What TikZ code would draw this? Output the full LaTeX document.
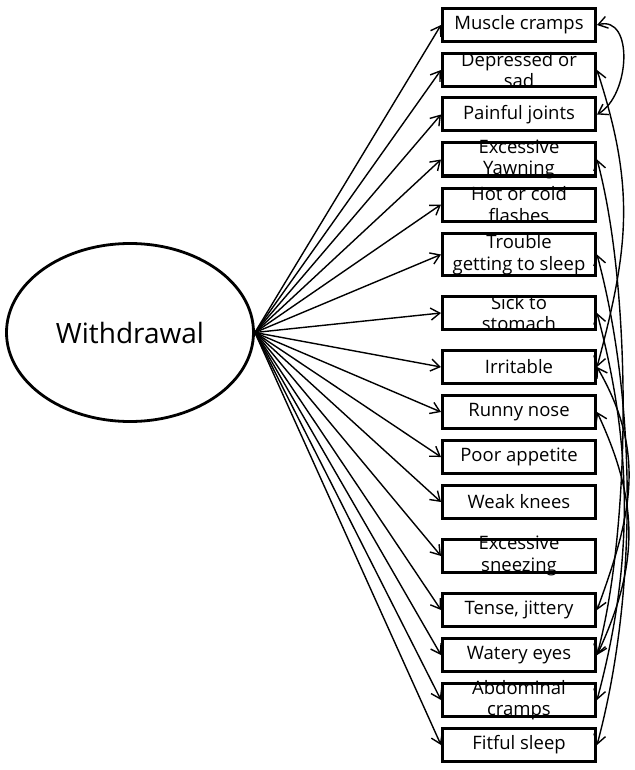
\documentclass[tikz,border=0pt]{standalone}
\usepackage{fontspec}
\setmainfont{Open Sans}
\usetikzlibrary{arrows.meta,shapes.geometric}

\tikzset{
  sym/.style={draw, line width=3pt, minimum width=153pt, minimum height=33pt, inner sep=0pt},
  symtxt/.style={font=\fontsize{18.5}{21.5}\selectfont, align=center, inner sep=0pt},
  load/.style={line width=1.4pt, -{Straight Barb[length=9pt,width=12pt]}},
  cov/.style={line width=1.4pt, {Straight Barb[length=9pt,width=12pt]}-{Straight Barb[length=9pt,width=12pt]}},
}

\begin{document}
\begin{tikzpicture}[x=1pt,y=1pt]
	\useasboundingbox (0,0) rectangle (634,-770);
	
	\node[draw, ellipse, line width=2.8pt, inner sep=0pt, minimum width=247pt, minimum height=178pt,
	      font=\fontsize{28}{32}\selectfont] (withdrawal) at (130,-332.5) {Withdrawal};
	
	% symptoms
	\node[sym, label={[symtxt]center:Muscle cramps}] (muscle) at (519,-25) {};
	\node[sym, label={[symtxt]center:Depressed or\\sad}] (depressed) at (519,-70) {};
	\node[sym, label={[symtxt]center:Painful joints}] (painful) at (519,-114.5) {};
	\node[sym, label={[symtxt]center:Excessive\\Yawning}] (yawning) at (519,-159.5) {};
	\node[sym, label={[symtxt]center:Hot or cold\\flashes}] (flashes) at (519,-204.5) {};
	\node[sym, minimum height=42pt, label={[symtxt]center:Trouble\\getting to sleep}] (trouble) at (519,-254.5) {};
	\node[sym, label={[symtxt]center:Sick to\\stomach}] (sick) at (519,-313) {};
	\node[sym, label={[symtxt]center:Irritable}] (irritable) at (519,-367) {};
	\node[sym, label={[symtxt]center:Runny nose}] (runny) at (519,-412) {};
	\node[sym, label={[symtxt]center:Poor appetite}] (appetite) at (519,-457) {};
	\node[sym, label={[symtxt]center:Weak knees}] (knees) at (519,-502) {};
	\node[sym, label={[symtxt]center:Excessive\\sneezing}] (sneezing) at (519,-556) {};
	\node[sym, label={[symtxt]center:Tense, jittery}] (tense) at (519,-610) {};
	\node[sym, label={[symtxt]center:Watery eyes}] (watery) at (519,-655) {};
	\node[sym, label={[symtxt]center:Abdominal\\cramps}] (abdominal) at (519,-700) {};
	\node[sym, label={[symtxt]center:Fitful sleep}] (fitful) at (519,-745) {};
	
	% loadings
	\draw[load] (withdrawal.east) -- (muscle.west);
	\draw[load] (withdrawal.east) -- (depressed.west);
	\draw[load] (withdrawal.east) -- (painful.west);
	\draw[load] (withdrawal.east) -- (yawning.west);
	\draw[load] (withdrawal.east) -- (flashes.west);
	\draw[load] (withdrawal.east) -- (trouble.west);
	\draw[load] (withdrawal.east) -- (sick.west);
	\draw[load] (withdrawal.east) -- (irritable.west);
	\draw[load] (withdrawal.east) -- (runny.west);
	\draw[load] (withdrawal.east) -- (appetite.west);
	\draw[load] (withdrawal.east) -- (knees.west);
	\draw[load] (withdrawal.east) -- (sneezing.west);
	\draw[load] (withdrawal.east) -- (tense.west);
	\draw[load] (withdrawal.east) -- (watery.west);
	\draw[load] (withdrawal.east) -- (abdominal.west);
	\draw[load] (withdrawal.east) -- (fitful.west);
	
	% correlated errors
	\draw[cov] (muscle.east) to[out=15, in=30, looseness=1.1] (painful.east);
	\draw[cov] (depressed.east) to[out=-72, in=75, distance=124pt] (irritable.east);
	\draw[cov] (yawning.east) to[out=-75, in=75, distance=134pt] (watery.east);
	\draw[cov] (trouble.east) to[out=-75, in=75, distance=155pt] (fitful.east);
	\draw[cov] (sick.east) to[out=-75, in=75, distance=140pt] (abdominal.east);
	\draw[cov] (irritable.east) to[out=-60, in=70, distance=100pt] (tense.east);
	\draw[cov] (runny.east) to[out=-65, in=65, distance=100pt] (watery.east);
\end{tikzpicture}
\end{document}
